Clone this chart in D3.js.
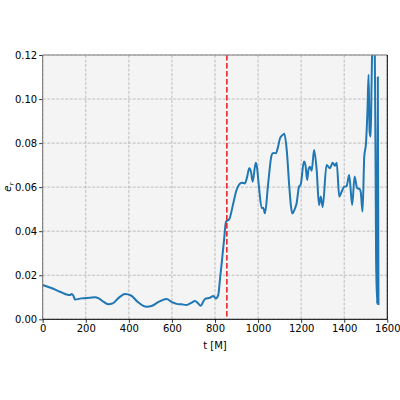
<!DOCTYPE html>
<html><head><meta charset="utf-8">
<script src="https://cdn.jsdelivr.net/npm/d3@7"></script>
<style>body{margin:0;background:#fff}svg{display:block}text{font-family:"DejaVu Sans",sans-serif}</style>
</head><body><div id="chart"></div>
<script>
const times = [0,40,80,110,127,134,142,150,180,220,243,260,285,305,325,350,382,410,440,465,483,505,540,575,600,622,645,668,690,707,722,733,753,777,792,804,815,823,831,842,851,866,885,900,924,939,950,959,967,975,989,995,1004,1017,1024,1032,1047,1063,1070,1083,1092,1102,1112,1122,1133,1145,1152,1159,1170,1179,1190,1198,1213,1220,1228,1234,1241,1249,1260,1272,1283,1291,1300,1318,1334,1346,1357,1365,1377,1388,1400,1411,1423,1437,1448,1460,1473,1477,1485,1493,1501,1508,1513,1518,1523,1527,1533,1541,1548,1553,1556,1559];
const ecc = [0.0156,0.0142,0.0125,0.0113,0.0110,0.0115,0.0108,0.0090,0.0095,0.0098,0.0100,0.0095,0.0078,0.0068,0.0072,0.0095,0.0115,0.0108,0.0080,0.0062,0.0057,0.0060,0.0080,0.0092,0.0078,0.0070,0.0068,0.0065,0.0075,0.0083,0.0072,0.0062,0.0092,0.0098,0.0106,0.0095,0.0110,0.0180,0.0254,0.0360,0.0443,0.0454,0.0527,0.0587,0.0620,0.0617,0.0650,0.0686,0.0670,0.0625,0.0711,0.0690,0.0602,0.0504,0.0507,0.0481,0.0618,0.0746,0.0755,0.0754,0.0780,0.0822,0.0835,0.0842,0.0769,0.0602,0.0520,0.0481,0.0500,0.0527,0.0602,0.0612,0.0716,0.0700,0.0633,0.0680,0.0693,0.0675,0.0769,0.0679,0.0519,0.0557,0.0510,0.0701,0.0686,0.0711,0.0697,0.0711,0.0557,0.0579,0.0602,0.0605,0.0655,0.0519,0.0648,0.0596,0.0590,0.0575,0.0489,0.0738,0.0799,0.0950,0.1110,0.0850,0.0830,0.1070,0.1350,0.1350,0.0270,0.0070,0.1100,0.0065];
const xTicks = [0,200,400,600,800,1000,1200,1400,1600];
const yTicks = [0.00,0.02,0.04,0.06,0.08,0.10,0.12];
const mergerTime = 855;

const W=400,H=400, L=42.7, R=387.3, T=55, B=319.3;
const svg = d3.select("#chart").append("svg").attr("width",W).attr("height",H);
const x = d3.scaleLinear().domain([0,1600]).range([L,R]);
const y = d3.scaleLinear().domain([0,0.12]).range([B,T]);

svg.append("rect").attr("x",L).attr("y",T).attr("width",R-L).attr("height",B-T).attr("fill","#f4f4f4");
svg.append("defs").append("clipPath").attr("id","clip").append("rect").attr("x",L).attr("y",T).attr("width",R-L).attr("height",B-T);

const grid = svg.append("g").attr("stroke","#b0b0b0").attr("stroke-width",0.8).attr("stroke-dasharray","3,1.5");
grid.selectAll(".gx").data(xTicks).enter().append("line").attr("x1",d=>x(d)).attr("x2",d=>x(d)).attr("y1",T).attr("y2",B);
grid.selectAll(".gy").data(yTicks).enter().append("line").attr("y1",d=>y(d)).attr("y2",d=>y(d)).attr("x1",L).attr("x2",R);

const data = times.map((t,i)=>[t,ecc[i]]);
svg.append("path").datum(data).attr("clip-path","url(#clip)")
  .attr("d", d3.line().curve(d3.curveMonotoneX).x(d=>x(d[0])).y(d=>y(d[1])))
  .attr("fill","none").attr("stroke","#1f77b4").attr("stroke-width",2).attr("stroke-linejoin","round");

svg.append("line").attr("x1",x(mergerTime)).attr("x2",x(mergerTime)).attr("y1",T).attr("y2",B)
  .attr("stroke","#e41a1c").attr("stroke-width",1.5).attr("stroke-dasharray","5.5,2.5");

const xa = svg.append("g").attr("transform",`translate(0,${B})`)
  .call(d3.axisBottom(x).tickValues(xTicks).tickSize(3.5).tickPadding(2).tickFormat(d3.format("d")));
const ya = svg.append("g").attr("transform",`translate(${L},0)`)
  .call(d3.axisLeft(y).tickValues(yTicks).tickSize(3.5).tickPadding(2).tickFormat(d3.format(".2f")));
[xa,ya].forEach(a=>{a.select(".domain").remove();a.selectAll("text").attr("font-size",10).attr("fill","#000").attr("font-family","DejaVu Sans");a.selectAll("line").attr("stroke","#000").attr("stroke-width",0.8);});

// spines
svg.append("line").attr("x1",L).attr("x2",R).attr("y1",T).attr("y2",T).attr("stroke","#808080").attr("stroke-width",1);
svg.append("line").attr("x1",L).attr("x2",L).attr("y1",T).attr("y2",B).attr("stroke","#707070").attr("stroke-width",1);
svg.append("line").attr("x1",L).attr("x2",R).attr("y1",B).attr("y2",B).attr("stroke","#000").attr("stroke-width",1);
svg.append("line").attr("x1",R).attr("x2",R).attr("y1",T).attr("y2",B).attr("stroke","#000").attr("stroke-width",1);

svg.append("text").attr("x",(L+R)/2).attr("y",349).attr("text-anchor","middle").attr("font-size",10).text("t [M]");
const yl = svg.append("text").attr("transform",`translate(11,${(T+B)/2}) rotate(-90)`).attr("text-anchor","middle").attr("font-size",10);
yl.append("tspan").attr("font-style","italic").text("e");
yl.append("tspan").attr("font-style","italic").attr("font-size",7).attr("dy",2.5).text("r");
</script></body></html>
